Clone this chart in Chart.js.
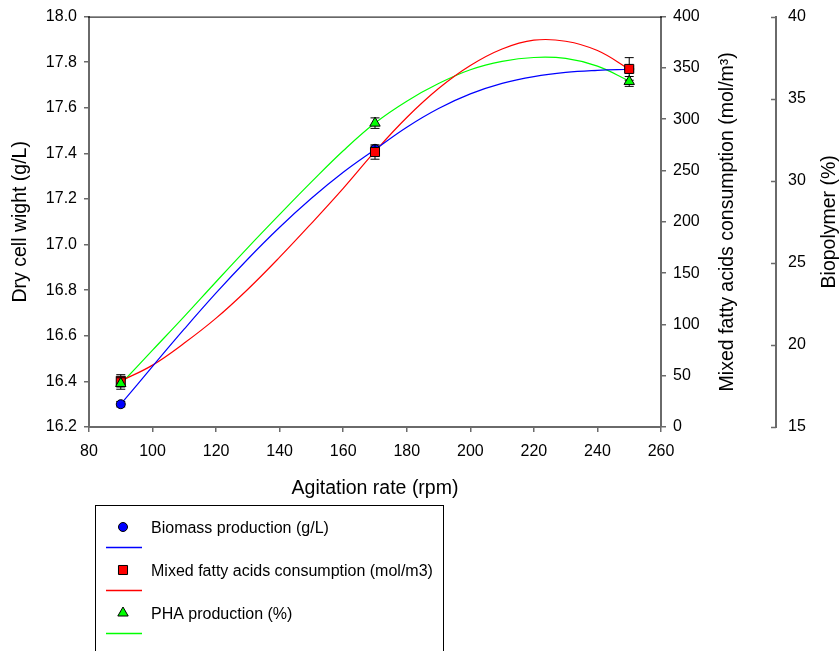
<!DOCTYPE html>
<html>
<head>
<meta charset="utf-8">
<script src="https://cdn.jsdelivr.net/npm/chart.js@4.4.1/dist/chart.umd.min.js"></script>
<style>
  html, body { margin: 0; padding: 0; background: #fff; }
</style>
</head>
<body>
<canvas id="chart" width="840" height="651"></canvas>
<script>
/* ── Measured points (with error bars) ── */
const pointRpm = [90, 170, 250];
const biomass = [16.30, 17.42, 17.77];
const biomassErr = [0.012, 0.012, 0.012];
const fattyAcids = [45, 268, 349];
const fattyErr = [6, 7, 11];
const pha = [17.65, 33.51, 36.05];
const phaErr = [0.35, 0.32, 0.3];

/* ── Fitted curves ── */
const curveRpm = [90, 100, 110, 120, 130, 140, 150, 160, 170, 180, 190, 200, 210, 220, 230, 240, 250];
const biomassCurve = [16.300, 16.466, 16.630, 16.788, 16.937, 17.076, 17.203, 17.317, 17.417, 17.515, 17.597, 17.661, 17.707, 17.737, 17.755, 17.764, 17.769];
const fattyCurve = [44.8, 60.3, 81.8, 106.1, 134.3, 165.5, 198.5, 232.6, 268.6, 301.7, 329.9, 352.3, 368.4, 377, 376, 366.9, 348.7];
const phaCurve = [17.62, 19.68, 21.74, 23.85, 25.93, 27.95, 29.93, 31.83, 33.52, 34.85, 35.92, 36.76, 37.27, 37.51, 37.45, 36.98, 36.08];

/* ── Tick labels ── */
const xTicks = [80, 100, 120, 140, 160, 180, 200, 220, 240, 260];
const dcwTicks = [16.2, 16.4, 16.6, 16.8, 17.0, 17.2, 17.4, 17.6, 17.8, 18.0];
const fattyTicks = [0, 50, 100, 150, 200, 250, 300, 350, 400];
const phaTicks = [15, 20, 25, 30, 35, 40];

const FONT = "'Liberation Sans', Arial, Helvetica, sans-serif";
const TITLE_SIZE = 19.5;
const TICK_SIZE = 16;
const axisGray = "#6a6a6a";
const BLUE = "#0000ff", RED = "#ff0000", GREEN = "#00ff00";

Chart.defaults.font.family = FONT;
Chart.defaults.color = "#000";

const pairs = (xs, ys) => xs.map((x, i) => ({ x, y: ys[i] }));
const setTicks = (arr) => (s) => { s.ticks = arr.map((v) => ({ value: v })); };

function axis(ticks, extra) {
  return Object.assign({
    type: "linear",
    min: ticks[0],
    max: ticks[ticks.length - 1],
    afterBuildTicks: setTicks(ticks),
    grid: { drawOnChartArea: false, drawTicks: true, tickLength: 5, color: axisGray, lineWidth: 1.5 },
    border: { display: true, color: axisGray, width: 2 },
    ticks: { font: { size: TICK_SIZE }, color: "#000", padding: 7 },
  }, extra);
}

/* ── Error bars, top frame, inward ticks, right titles, legend ── */
const extras = {
  id: "extras",
  beforeDatasetDraw(chart, args) {
    const ds = chart.data.datasets[args.index];
    if (!ds.errors) return;
    const xs = chart.scales.x, ys = chart.scales[ds.yAxisID];
    const ctx = chart.ctx;
    ctx.save();
    ctx.strokeStyle = "#000";
    ctx.lineWidth = 1;
    ds.data.forEach((p, i) => {
      const px = xs.getPixelForValue(p.x);
      const top = ys.getPixelForValue(p.y + ds.errors[i]);
      const bot = ys.getPixelForValue(p.y - ds.errors[i]);
      ctx.beginPath();
      ctx.moveTo(px, top); ctx.lineTo(px, bot);
      ctx.moveTo(px - 4.5, top); ctx.lineTo(px + 4.5, top);
      ctx.moveTo(px - 4.5, bot); ctx.lineTo(px + 4.5, bot);
      ctx.stroke();
    });
    ctx.restore();
  },
  afterDraw(chart) {
    const { ctx, chartArea: a, scales } = chart;
    ctx.save();

    // top frame line
    ctx.strokeStyle = "#000";
    ctx.lineWidth = 1;
    ctx.beginPath();
    ctx.moveTo(a.left - 1, a.top + 0.5);
    ctx.lineTo(a.right + 1, a.top + 0.5);
    ctx.stroke();

    // outer right axis has its ticks on the left side of the line
    const y2 = scales.y2;
    ctx.strokeStyle = axisGray;
    ctx.lineWidth = 1.5;
    y2.ticks.forEach((t) => {
      const py = Math.round(y2.getPixelForValue(t.value)) + 0.5;
      ctx.beginPath();
      ctx.moveTo(y2.left - 5, py);
      ctx.lineTo(y2.left, py);
      ctx.stroke();
    });

    // right axis titles, reading bottom to top
    ctx.fillStyle = "#000";
    ctx.font = TITLE_SIZE + "px " + FONT;
    ctx.textAlign = "center";
    ctx.textBaseline = "middle";
    const cy = (a.top + a.bottom) / 2;
    [[scales.y1.right - 48, "Mixed fatty acids consumption (mol/m\u00B3)"],
     [scales.y2.right - 10, "Biopolymer (%)"]].forEach(([tx, txt]) => {
      ctx.save();
      ctx.translate(tx, cy);
      ctx.rotate(-Math.PI / 2);
      ctx.fillText(txt, 0, 0);
      ctx.restore();
    });

    // legend box
    const lx = 95, ly = 505;
    ctx.strokeStyle = "#000";
    ctx.lineWidth = 1;
    ctx.strokeRect(lx + 0.5, ly + 0.5, 348, 200);
    ctx.font = "16px " + FONT;
    ctx.textAlign = "left";
    const items = chart.data.datasets.filter((d) => d.errors);
    items.sort((p, q) => p.legendRow - q.legendRow);
    items.forEach((d, i) => {
      const rowY = ly + 22 + i * 43;
      ctx.fillStyle = d.pointBackgroundColor;
      ctx.strokeStyle = "#000";
      ctx.lineWidth = 1;
      Chart.helpers.drawPoint(ctx, { pointStyle: d.pointStyle, radius: d.pointRadius, rotation: 0, borderWidth: 1 }, lx + 28, rowY);
      ctx.fillStyle = "#000";
      ctx.fillText(d.label, lx + 56, rowY + 1.5);
      ctx.strokeStyle = d.curveColor;
      ctx.lineWidth = 1.6;
      ctx.beginPath();
      ctx.moveTo(lx + 11, rowY + 20.5);
      ctx.lineTo(lx + 47, rowY + 20.5);
      ctx.stroke();
    });

    ctx.restore();
  },
};

const curve = (label, ys, color, axisId) => ({
  label,
  data: pairs(curveRpm, ys),
  yAxisID: axisId,
  borderColor: color,
  borderWidth: 1.2,
  pointRadius: 0,
  fill: false,
  tension: 0.4,
  order: 10,
});

const marks = (label, ys, errs, color, lineColor, style, radius, axisId, order, row) => ({
  label,
  data: pairs(pointRpm, ys),
  errors: errs,
  yAxisID: axisId,
  showLine: false,
  pointStyle: style,
  pointRadius: radius,
  pointHoverRadius: radius,
  backgroundColor: color,
  pointBackgroundColor: color,
  pointBorderColor: "#000",
  pointBorderWidth: 1,
  curveColor: lineColor,
  legendRow: row,
  order,
});

new Chart(document.getElementById("chart"), {
  type: "line",
  data: {
    datasets: [
      curve("biomass fit", biomassCurve, BLUE, "y"),
      curve("fatty acids fit", fattyCurve, RED, "y1"),
      curve("PHA fit", phaCurve, GREEN, "y2"),
      marks("Biomass production (g/L)", biomass, biomassErr, BLUE, BLUE, "circle", 4.5, "y", 3, 0),
      marks("Mixed fatty acids consumption (mol/m3)", fattyAcids, fattyErr, RED, RED, "rect", 6.4, "y1", 2, 1),
      marks("PHA production (%)", pha, phaErr, GREEN, GREEN, "triangle", 6, "y2", 1, 2),
    ],
  },
  options: {
    responsive: false,
    animation: false,
    devicePixelRatio: 1,
    layout: { padding: { top: 15, bottom: 151, left: 0, right: 0 } },
    plugins: { legend: { display: false }, tooltip: { enabled: false } },
    scales: {
      x: axis(xTicks, {
        position: "bottom",
        afterFit: (s) => { s.height = 73; },
        ticks: { font: { size: TICK_SIZE }, color: "#000", padding: 10 },
        title: { display: true, text: "Agitation rate (rpm)", font: { size: TITLE_SIZE }, color: "#000", padding: { top: 0, bottom: 0 } },
      }),
      y: axis(dcwTicks, {
        position: "left",
        afterFit: (s) => { s.width = 89; },
        ticks: { font: { size: TICK_SIZE }, color: "#000", padding: 7, callback: (v) => Number(v).toFixed(1) },
        title: { display: true, text: "Dry cell wight (g/L)", font: { size: TITLE_SIZE }, color: "#000", padding: { top: 9, bottom: 0 } },
      }),
      y1: axis(fattyTicks, {
        position: "right",
        weight: 0,
        afterFit: (s) => { s.width = 115; },
      }),
      y2: axis(phaTicks, {
        position: "right",
        weight: 1,
        afterFit: (s) => { s.width = 64; },
        grid: { drawOnChartArea: false, drawTicks: true, tickLength: 5, color: "rgba(0,0,0,0)" },
      }),
    },
  },
  plugins: [extras],
});
</script>
</body>
</html>
